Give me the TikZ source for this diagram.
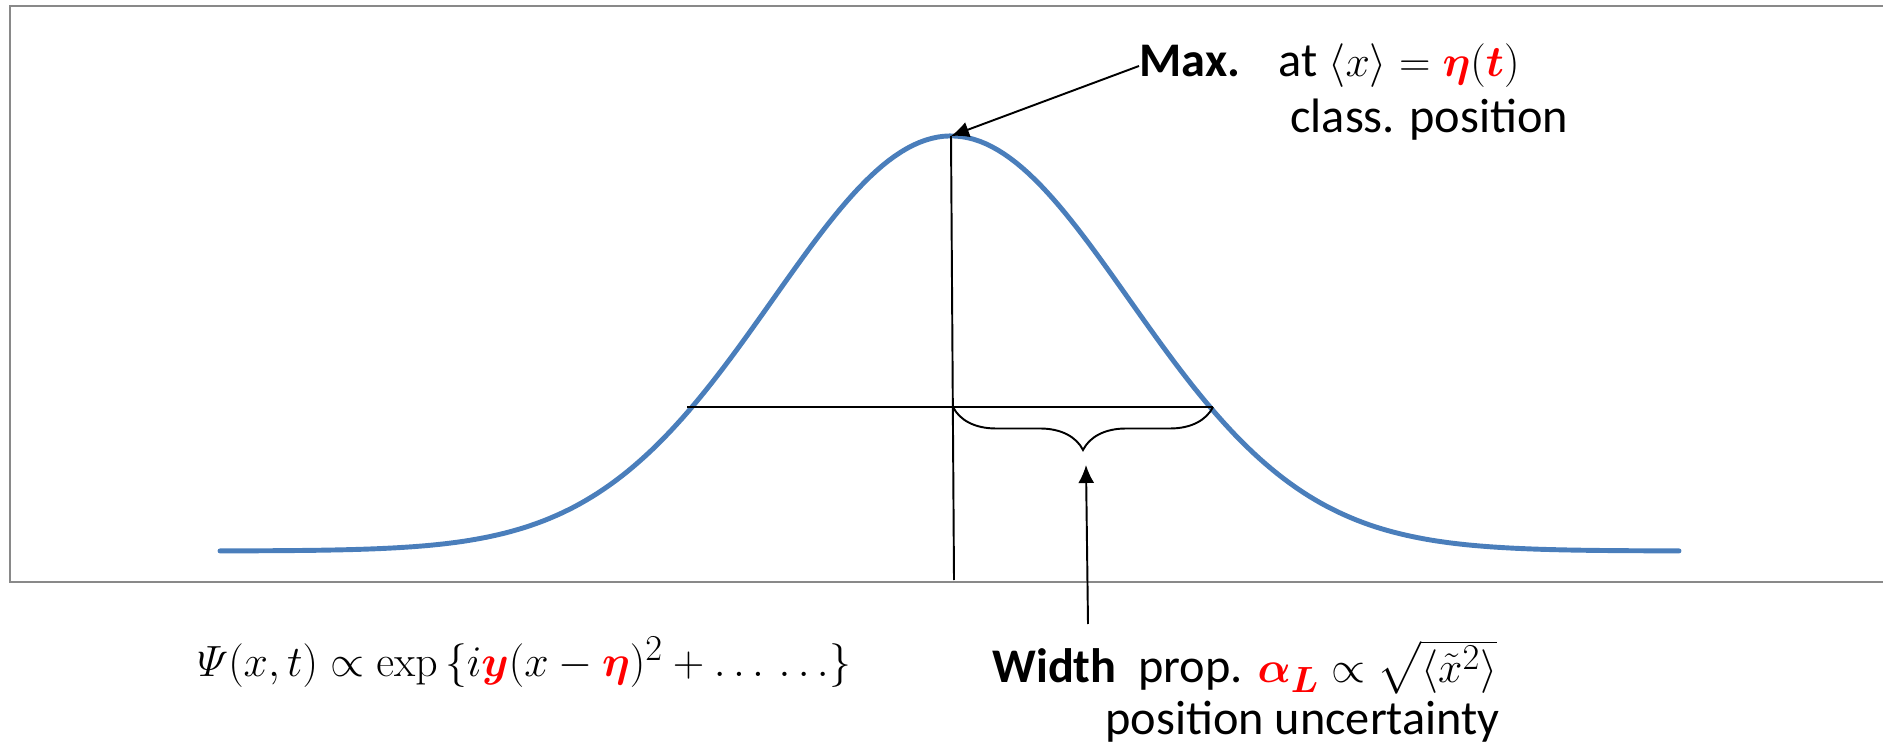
\documentclass[tikz,border=0pt]{standalone}
\usepackage{amsmath,bm}
\usepackage[no-math]{fontspec}
\setmainfont{Carlito}
\usetikzlibrary{arrows.meta,decorations.pathreplacing}

\definecolor{gaussblue}{HTML}{4A7EBB}
\definecolor{framegray}{HTML}{898989}
\newcommand{\hl}[1]{\textcolor{red}{\bm{#1}}}

\begin{document}
\begin{tikzpicture}[x=0.02cm,y=-0.02cm,
    lbl/.style={anchor=west,inner sep=0pt,font=\fontsize{27.5}{33}\selectfont},
    thinln/.style={line width=1.1pt},
    arr/.style={line width=1.1pt,-{Latex[length=0.36cm,width=0.32cm]}}]
        \useasboundingbox (0,0) rectangle (1883,746);
        % Frame (open on the right)
        \draw[framegray, line width=1.5pt] (1890,6) -- (10,6) -- (10,582) -- (1890,582);

        % Wave packet
        \draw[gaussblue, line width=2.8pt, line cap=round]
            plot[domain=220:1679, samples=241] (\x, {551-415*exp(-((\x-951)/178)^2/2)});

        \coordinate (peak) at (951,136);
        \coordinate (foot) at (954,580);
        \coordinate (hwl) at (687,407);
        \coordinate (hwr) at (1213,407);
        \coordinate (hwc) at (953,407);
        \coordinate (btip) at (1086,465);
        \coordinate (wtail) at (1088,624);

        % Centre line and width line
        \draw[thinln] (peak) -- (foot);
        \draw[thinln] (hwl) -- (hwr);
        \draw[thinln, decorate, decoration={brace, mirror, amplitude=0.86cm}] (hwc) -- (hwr);

        % Labels
        \node[lbl] (max) at (1139,66) {\textbf{Max.}\hspace{0.8em}at $\langle x\rangle = \hl{\eta}(\hl{t})$};
        \node[lbl] (cls) at (1290,120) {class. position};
        \node[lbl, font=\fontsize{29.5}{35}\selectfont] (psi) at (197,662)
            {$\varPsi(x,t) \propto \exp\,\{i\hl{y}(x-\hl{\eta})^2 + \ldots\,\ldots\}$};
        \node[lbl] (wid) at (992,667) {\textbf{Width}\ \ prop. $\hl{\alpha_L} \propto \sqrt{\langle\tilde{x}^2\rangle}$};
        \node[lbl] (unc) at (1105,722) {position uncertainty};

        % Arrows
        \draw[arr] (max.west) -- (peak);
        \draw[arr] (wtail) -- (btip);
\end{tikzpicture}
\end{document}
